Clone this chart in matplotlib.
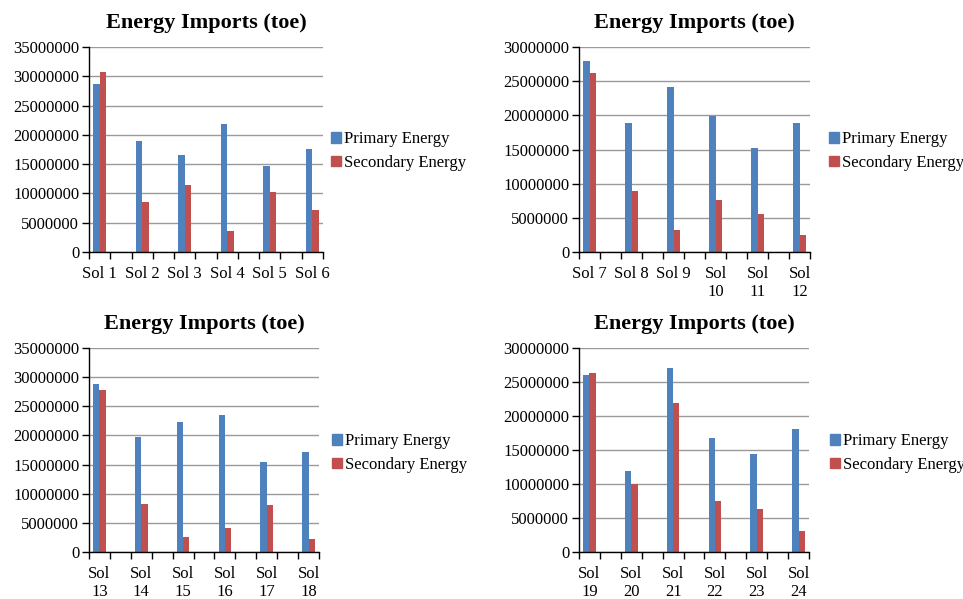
import matplotlib
matplotlib.use("Agg")
import matplotlib.pyplot as plt
from matplotlib.patches import Patch

plt.rcParams['font.family'] = ['Liberation Serif', 'DejaVu Serif']

title = "Energy Imports (toe)"
series_names = ["Primary Energy", "Secondary Energy"]
colors = ["#4F81BD", "#C0504D"]

cats_1 = ["Sol 1", "Sol 2", "Sol 3", "Sol 4", "Sol 5", "Sol 6"]
primary_1 = [28700000, 19000000, 16600000, 21900000, 14700000, 17600000]
secondary_1 = [30800000, 8550000, 11450000, 3600000, 10250000, 7150000]

cats_2 = ["Sol 7", "Sol 8", "Sol 9", "Sol\n10", "Sol\n11", "Sol\n12"]
primary_2 = [28000000, 18900000, 24200000, 19950000, 15250000, 18900000]
secondary_2 = [26250000, 8900000, 3180000, 7600000, 5500000, 2450000]

cats_3 = ["Sol\n13", "Sol\n14", "Sol\n15", "Sol\n16", "Sol\n17", "Sol\n18"]
primary_3 = [28800000, 19700000, 22300000, 23500000, 15450000, 17200000]
secondary_3 = [27800000, 8270000, 2600000, 4160000, 8100000, 2280000]

cats_4 = ["Sol\n19", "Sol\n20", "Sol\n21", "Sol\n22", "Sol\n23", "Sol\n24"]
primary_4 = [26000000, 11950000, 27050000, 16800000, 14450000, 18100000]
secondary_4 = [26300000, 10000000, 21900000, 7500000, 6350000, 3130000]

ymax_1, ymax_2, ymax_3, ymax_4 = 35000000, 30000000, 35000000, 30000000

W, H = 963, 599
fig = plt.figure(figsize=(W / 100, H / 100), dpi=100)

panels = [
    (cats_1, primary_1, secondary_1, ymax_1, (89, 47, 323, 252), (331, 151)),
    (cats_2, primary_2, secondary_2, ymax_2, (579, 47, 810, 252), (829, 151)),
    (cats_3, primary_3, secondary_3, ymax_3, (89, 348, 319, 552), (332, 453)),
    (cats_4, primary_4, secondary_4, ymax_4, (579, 348, 809, 552), (830, 453)),
]

for cats, prim, sec, ymax, (l, t, r, b), (lx, ly) in panels:
    ax = fig.add_axes([l / W, 1 - b / H, (r - l) / W, (b - t) / H])
    n = len(cats)
    xs = [2 * i for i in range(n)]
    bw = 0.3
    ax.bar([x - bw / 2 for x in xs], prim, width=bw, color=colors[0], zorder=3)
    ax.bar([x + bw / 2 for x in xs], sec, width=bw, color=colors[1], zorder=3)
    ax.set_xlim(-0.5, 2 * (n - 1) + 0.5)
    ax.set_ylim(0, ymax)
    ax.set_xticks([k - 0.5 for k in range(2 * n)])
    ax.set_xticklabels([])
    ax.set_xticks(xs, minor=True)
    ax.set_xticklabels(cats, minor=True, fontsize=12, linespacing=1.2)
    ax.tick_params(axis='x', which='major', direction='out', length=5, width=1, color='black')
    ax.tick_params(axis='x', which='minor', length=0, pad=10)
    yt = list(range(0, ymax + 1, 5000000))
    ax.set_yticks(yt)
    ax.set_yticklabels([str(v) for v in yt], fontsize=12)
    ax.tick_params(axis='y', direction='out', length=5, width=1, color='black', pad=2)
    ax.yaxis.grid(True, color='#9a9a9a', linewidth=1.0, zorder=0)
    ax.set_axisbelow(True)
    for s in ['top', 'right']:
        ax.spines[s].set_visible(False)
    for s in ['left', 'bottom']:
        ax.spines[s].set_color('black')
        ax.spines[s].set_linewidth(1.0)
        ax.spines[s].set_zorder(4)
    ax.set_title(title, fontsize=16, fontweight='bold', pad=14)
    handles = [Patch(color=colors[0]), Patch(color=colors[1])]
    fig.legend(handles, series_names, loc='center left',
               bbox_to_anchor=(lx / W, 1 - ly / H), frameon=False,
               fontsize=12, handlelength=0.6, handleheight=0.6,
               handletextpad=0.2, labelspacing=0.45, borderaxespad=0, borderpad=0)

fig.savefig("out.png", dpi=100)
